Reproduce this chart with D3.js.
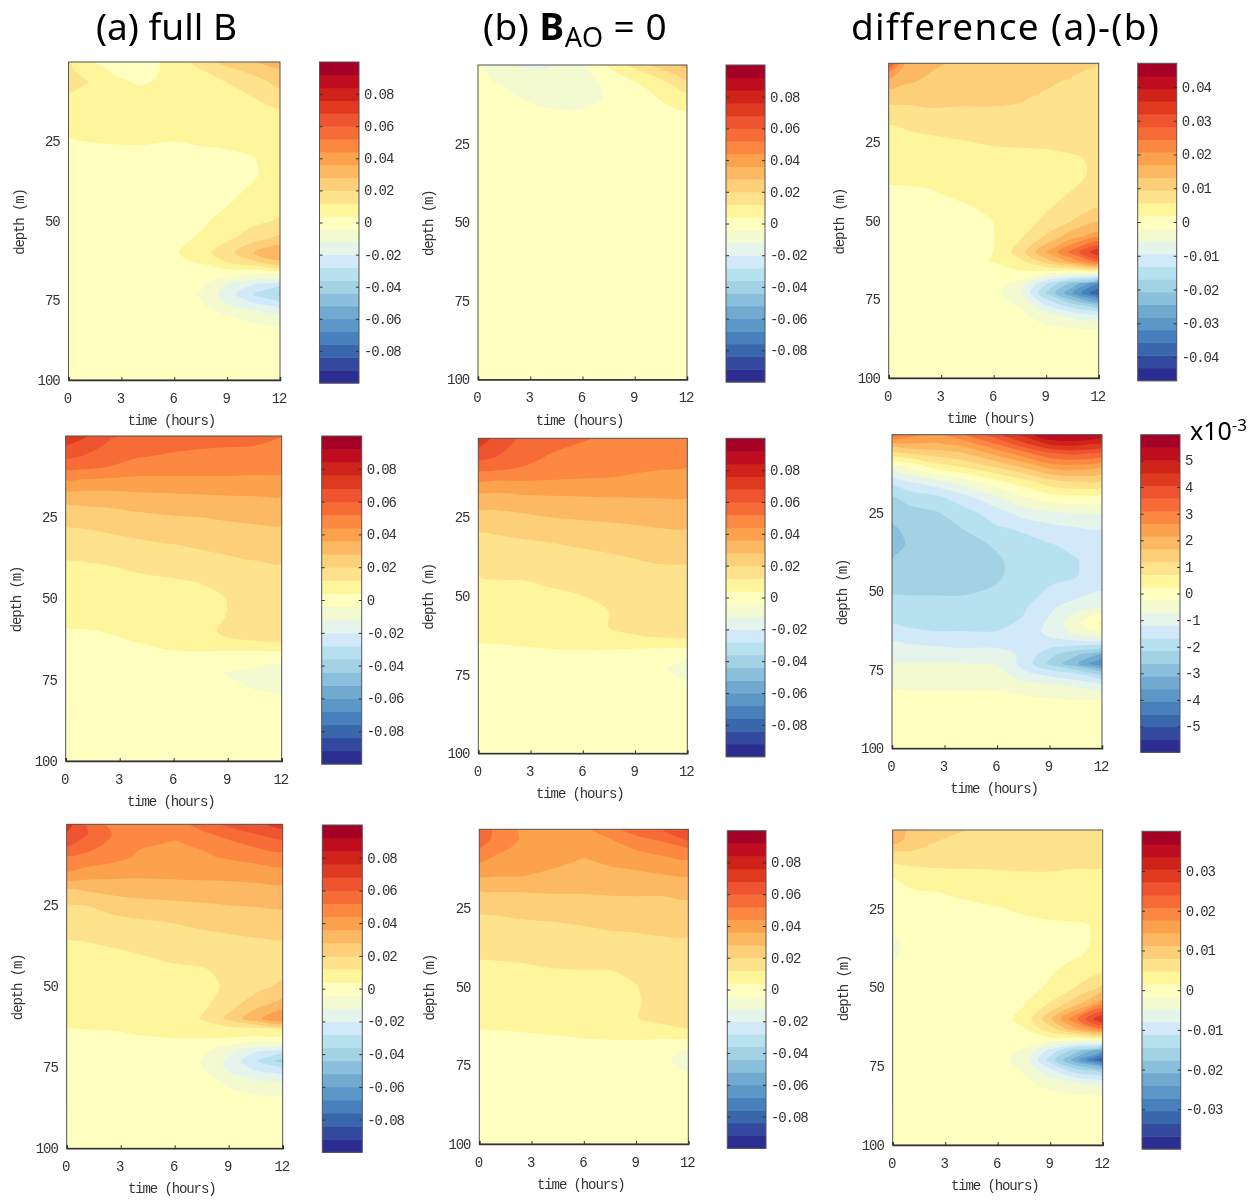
<!DOCTYPE html>
<html>
<head>
<meta charset="utf-8">
<script src="https://cdn.jsdelivr.net/npm/d3@7"></script>
<style>
html, body { margin: 0; background: #fff; }
svg { display: block; filter: blur(0.4px); }
.tick text, .lab { font-family: "Liberation Mono", monospace; font-size: 14px; letter-spacing: -1.1px; fill: #333; }
.title { font-family: "Noto Sans", sans-serif; font-size: 37px; fill: #000; }
</style>
</head>
<body>
<svg id="chart" width="1249" height="1203"></svg>
<script>
var timeHours = [0, 1, 2.5, 4, 6, 7.5, 9, 10.5, 12];
var depthMeters = [0, 3, 6, 10, 15, 20, 25, 30, 35, 40, 45, 50, 55, 60, 63, 66, 70, 73, 76, 80, 85, 100];
var timeTicks = [0, 3, 6, 9, 12];
var depthTicks = [25, 50, 75, 100];
var ticksFull = [-0.08, -0.06, -0.04, -0.02, 0, 0.02, 0.04, 0.06, 0.08];
var ticksDiffTop = [-0.04, -0.03, -0.02, -0.01, 0, 0.01, 0.02, 0.03, 0.04];
var ticksDiffMid = [-5, -4, -3, -2, -1, 0, 1, 2, 3, 4, 5];
var ticksDiffBot = [-0.03, -0.02, -0.01, 0, 0.01, 0.02, 0.03];
var bandColors = ["#2c2d90", "#33489f", "#3a67ab", "#4880bd", "#5b98c8", "#72a9d0", "#8ac0dc", "#a2d2e3", "#b8e1f0", "#d1e9f8", "#e6f5ec", "#f3fad0", "#ffffbf",
    "#fff59a", "#fee38c", "#fdcf78", "#fdb863", "#fda24c", "#fd8842", "#f76b37", "#ee5430", "#df3a1f", "#cf2319", "#bf0c1e", "#a50026"];

// values, rows = depth, columns = time, in units of 1e-3
var fullTop = [
    [12.5,4.5,2,1,6,16,23,27,32],
    [14,9,3.5,2,5.5,11,17,22,26],
    [14,12.5,5,3.4,5,8.5,12.5,17,23],
    [11.8,9.5,6,5,6,7,9,13,18],
    [8,7.5,6,5.5,5.5,6,7,9,11.5],
    [5.2,5.5,5,5,4.8,5,5.5,6.5,8],
    [3.5,4,4.2,4.3,4,4.2,4.3,5,6.5],
    [2.5,3,3,3,3,3.5,3.7,3.9,6],
    [2.5,2.5,2.5,2.5,2.5,3,3,3.5,6],
    [2,2,2,2,2,2.5,3,4.5,6.5],
    [2,2,2,2,2,2.5,3.8,7,9],
    [2,2,2,2,2,3,6,10,13],
    [1.5,1.5,1.5,1.5,2.5,4.5,10,16,21],
    [1.5,1.5,1.5,1.5,3,8.5,17,28,34],
    [1,1,1,1,2.5,4.5,12,18,26],
    [.5,.5,.5,.5,.5,.5,1,0,-1],
    [0,0,0,0,-1,-3,-12,-20,-28],
    [0,0,0,0,-1.5,-4.5,-16,-28,-37],
    [0,0,0,0,-1,-3,-12,-19,-26],
    [0,0,0,0,-.5,-1,-3.5,-6,-11],
    [0,0,0,0,0,0,-1,-1.5,-1],
    [0,0,0,0,0,0,0,0,0]
];
var noAoTop = [
    [-3.5,-9,-13,-13,-5,5,15,24,30],
    [-1,-6,-8,-10.5,-6.5,.5,8,15,24],
    [0,-3.8,-6,-7.5,-6,-3,3,9,17],
    [0,-1,-4.4,-6,-6,-3.5,0,5,10],
    [0,0,-2,-3.3,-3.5,-2,0,1.5,3.5],
    [0,0,0,-.5,-1,-1,0,.5,1.5],
    [0,0,0,0,0,0,0,0,0],
    [0,0,0,0,0,0,0,0,0],
    [0,0,0,0,0,0,0,0,0],
    [0,0,0,0,0,0,0,0,0],
    [0,0,0,0,0,0,0,0,0],
    [0,0,0,0,0,0,0,0,0],
    [0,0,0,0,0,0,0,0,0],
    [0,0,0,0,0,0,0,0,0],
    [0,0,0,0,0,0,0,0,0],
    [0,0,0,0,0,0,0,0,0],
    [0,0,0,0,0,0,0,0,0],
    [0,0,0,0,0,0,0,0,0],
    [0,0,0,0,0,0,0,0,0],
    [0,0,0,0,0,0,0,0,0],
    [0,0,0,0,0,0,0,0,0],
    [0,0,0,0,0,0,0,0,0]
];
var diffTop = [
    [30,15.5,13.8,12.5,11.5,11,10.5,10,9.4],
    [19,15,13,12.5,11.5,11,10.5,9.8,8.5],
    [15.5,13.5,12.5,12,11.5,11,10,8.8,8],
    [11,11,10.5,10.5,10.5,10,9,8,7.5],
    [8,8.5,9.2,9,9,8.8,8,7.5,7],
    [5.2,6,6.5,7,7.5,7.5,7.5,7,7],
    [4.3,4.5,5,5.4,6,6,6,6.5,6.5],
    [3.5,3.5,3.8,4.2,4.7,5,5.2,5.4,6],
    [2.5,2.8,3,3.5,4,4.5,5,5.2,6],
    [1.5,1.6,1.9,2.4,3.3,4,4.5,5.6,6.5],
    [1.3,1.4,1.5,1.7,2.3,3.5,5,7,8.8],
    [1.1,1.1,1.2,1.3,1.9,3.5,6.5,9.5,12.5],
    [1,1,1.1,1.2,1.8,5,10,15.5,19],
    [1,1,1,1.1,1.9,7.5,17,26,35],
    [.8,.8,.9,1,2,4.5,11,18,26],
    [.5,.5,.5,.5,1,1.7,1.7,1.5,0],
    [0,0,0,0,-.5,-3,-13,-22,-32],
    [0,0,0,0,-1,-4.5,-17,-28,-40],
    [0,0,0,0,-.5,-2.5,-11,-18,-26],
    [0,0,0,0,0,-1,-4,-7,-10],
    [0,0,0,0,0,0,-.5,-1,-1.5],
    [0,0,0,0,0,0,0,0,0]
];
var fullMid = [
    [72,69,61,57,56,55,54,53,52],
    [68,65,58,55,54,53,52.5,52,50],
    [62,60,56,53,51,50,49,48,47.5],
    [53,52.5,51,48,47.5,47,46.5,46,45.5],
    [40,39.5,39,39.5,40,40.5,41,41,41],
    [29,30,31,32,32.5,33,33.5,34,34],
    [23,23.5,24,26,27.5,28,29,29.5,30],
    [17.5,18.5,20,21.5,23,24,25,26,26],
    [14,15,16,17,18.5,20,21,22,23],
    [10.5,11,12,13.5,15,16,18,19,19.5],
    [8.5,8.5,9.5,10,11,12.2,14.5,15,15.5],
    [7,7,7.5,8,9,10,12.2,14,14.5],
    [5.5,5.5,6,6.5,7.5,9,12.2,14,14.5],
    [3.5,3.8,4.2,5,6,9,14,14,14.3],
    [2.5,3,3.5,4.2,5,6,11,12,12.8],
    [1.5,1.8,2.5,3,4,4.2,4.2,4.3,4.2],
    [1,1,1,1,1,.5,-1,-3,-4.5],
    [.5,.5,.5,.5,.5,-.5,-4.5,-5.5,-6.5],
    [.5,.5,.5,.5,0,-.5,-3,-5,-6],
    [0,0,0,0,0,-.5,-1.5,-3,-3.8],
    [0,0,0,0,0,0,-.5,-1,-1.5],
    [0,0,0,0,0,0,0,0,0]
];
var noAoMid = [
    [72,66,58,55,53,50,48.5,48,47.5],
    [68,63,57,53.5,50.5,48.5,47.5,47,47],
    [62,60,55,51.5,49,47.5,47,46,45.5],
    [53,52.5,51,48.5,47,46,45,44,43.5],
    [40.5,40,41,41.5,41.5,42,41,40,39],
    [31,31,32.5,33,33.5,34,34.5,35,35],
    [25,25.5,26.5,28,29,29.5,30,30.5,30.5],
    [19.5,20.5,22,23,24,25,26,27,27],
    [16,16.5,17,18,20,21,22,23,23.5],
    [13.5,14,14.5,15,16.5,17.5,19,20,20],
    [11.5,12,12,12.8,14,15,16.5,17,17.5],
    [10.5,10.5,10.5,11,12,13.5,14.5,15,15.5],
    [9,9,9.5,10,10.5,12,14,15,15],
    [7,7.5,7.5,8,9,12,13.5,14.5,14.5],
    [5,5.5,6,6.5,7.5,10,11.5,12.5,12.8],
    [3.3,3.5,4,4.5,4.8,5,5,5,5],
    [1.5,1.5,1.5,2,2,1.5,0,-2.5,-4],
    [1,1,1,1,1,.5,-1,-3.5,-5.5],
    [.5,.5,.5,.5,.5,0,-.5,-2.5,-4.5],
    [0,0,0,0,0,0,-.5,-1,-2],
    [0,0,0,0,0,0,0,0,-.5],
    [0,0,0,0,0,0,0,0,0]
];
var diffMid = [
    [3.3,2.8,2.4,3,3.9,4.7,5.5,5.6,5.2],
    [1.8,2.1,2.1,2.3,3.1,3.9,4.6,4.7,4.4],
    [.9,1.2,1.4,1.6,2.3,2.9,3.5,3.7,3.4],
    [-.5,-.1,.5,.8,1.3,1.8,2.4,2.5,2.2],
    [-1.6,-1.2,-.9,-.5,.1,.5,1,1.2,1.1],
    [-2.2,-2,-1.8,-1.4,-.8,-.3,0,.1,0],
    [-2.5,-2.3,-2.2,-1.9,-1.4,-1,-.8,-.7,-.7],
    [-2.7,-2.5,-2.35,-2.15,-1.75,-1.6,-1.4,-1.25,-1.2],
    [-2.85,-2.55,-2.45,-2.3,-2.1,-1.85,-1.7,-1.55,-1.4],
    [-2.6,-2.5,-2.45,-2.35,-2.2,-2,-1.85,-1.7,-1.45],
    [-2.5,-2.45,-2.4,-2.3,-2.2,-2,-1.8,-1.7,-1.4],
    [-2.2,-2.2,-2.2,-2.2,-2.1,-1.9,-1.6,-1.5,-1.2],
    [-2,-2,-2,-2,-1.95,-1.75,-1.3,-.9,-.7],
    [-1.7,-1.75,-1.8,-1.8,-1.8,-1.6,-1.1,-.4,.35],
    [-1.5,-1.6,-1.65,-1.65,-1.65,-1.4,-1.1,-.6,-.2],
    [-1.2,-1.25,-1.3,-1.35,-1.35,-1.3,-1.3,-1.3,-1.4],
    [-.95,-.95,-1,-1.05,-1.05,-1.25,-2,-2.5,-3.2],
    [-.7,-.7,-.7,-.7,-.75,-1.35,-2.25,-3,-4.1],
    [-.5,-.5,-.5,-.5,-.5,-1.1,-1.4,-1.7,-2.5],
    [-.3,-.3,-.3,-.3,-.3,-.5,-.6,-.8,-1.1],
    [-.1,-.1,-.1,-.1,-.1,-.1,-.15,-.2,-.2],
    [0,0,0,0,0,0,0,0,0]
];
var fullBot = [
    [72,60,49,47,47,56,62,66,71],
    [67,61,52,46.5,45,50,55,60,64],
    [62,57,50,45,43.5,45,50,54,56],
    [51,50,47,43,42.5,43,45,47,49.5],
    [43,41,39,38,38,38.5,39,40,40.5],
    [27,29,31,32,33,33,33,33.5,34],
    [19,20,23,25,26,27,28,28.5,29],
    [15.5,16,17.5,19,20.5,22,23,24,24.5],
    [12,12.5,13.5,15,16.5,18,19,20,20.5],
    [10,10.5,11,12,13.5,15,16,16.5,17],
    [9,9,9.5,10,11,11.3,14,14,16.5],
    [8,8,8.5,8.5,9,10,13,17,22],
    [7,7,7.5,7.5,8,10,16,24,30],
    [5.5,5.5,6,6,7,12.5,22,34,43],
    [3.8,4.2,4.5,5,6,8,10,11,12.5],
    [2,2,2.5,3.5,4,4,3.5,2,1],
    [1,1,1,1,.5,-2,-10,-19,-26],
    [.5,.5,.5,.5,0,-4.5,-14,-27,-40],
    [.5,.5,.5,.5,0,-3,-13,-20,-25],
    [0,0,0,0,0,-1,-5,-9,-12],
    [0,0,0,0,0,0,-1,-2,-2.5],
    [0,0,0,0,0,0,0,0,0]
];
var noAoBot = [
    [58,49,42,41,42,49,56,60,66],
    [56,50,43,41,41,44,50,54,62],
    [52,46,42,39,38,40,45,47,52],
    [45,42,40,38,35.5,37,39,42,43],
    [36,36,36,34.5,34,34,34,35,35.5],
    [27,28,28,28.5,28.5,29,29,29,30],
    [21,21.5,22.5,23,24,24.5,25,25,25.5],
    [18,18.5,19,19.5,20.5,21.5,22,22,22.5],
    [15,15.5,16,16.5,17,18,18.5,19.5,19.5],
    [12.5,12.8,13,14,15,16,16,17.5,17.5],
    [10.5,10.5,11,11.5,11.8,11.8,13,15.5,16],
    [9,9,9.5,10,10,10.5,11.8,14.5,15],
    [7.5,7.5,8,8.5,9,10,11.3,14.5,15],
    [5.5,5.5,6,6.5,8,9.5,11.8,13.5,15],
    [4.2,4.5,5,5.5,6.5,7.5,9.5,11,12.5],
    [2.5,2.8,3,3.5,4.3,4.8,5,5,5],
    [1.5,1.5,1.5,1.5,1.5,1.2,.5,-1.5,-4.2],
    [1,1,1,1,1,.5,-.5,-3,-6],
    [.5,.5,.5,.5,.5,0,-.5,-2,-4.8],
    [0,0,0,0,0,0,0,-1,-2],
    [0,0,0,0,0,0,0,0,-.5],
    [0,0,0,0,0,0,0,0,0]
];
var diffBot = [
    [14,10,8.8,8.2,7,6.5,6.2,6,5.8],
    [14,9.5,8.3,7,6.5,6.2,6,5.8,5.6],
    [8.5,8.5,7,6.5,6.2,6,5.8,5.5,5.4],
    [5,5.5,5.5,5.5,5.5,5.5,5.5,5.2,5.2],
    [1.5,3,3.8,4,4.2,4.4,4.4,4.3,4.2],
    [.5,1,1.5,2,3,3.2,3.3,3.3,3.2],
    [0,0,.5,1,1.4,2,2.3,2.6,2.6],
    [-.5,-.2,0,.3,.8,1,1.3,1.4,1.85],
    [-2,-1,0,.2,.5,.8,1,1.3,1.85],
    [-2,-.8,0,0,.3,.5,1,1.4,2.4],
    [-.5,-.3,0,0,.2,.4,1.3,3,4.5],
    [0,0,0,0,.2,.7,2,5,8.5],
    [0,0,0,0,.3,1.4,5,10,16],
    [0,0,0,0,.3,2.6,10.5,20.5,31],
    [0,0,0,0,.3,1.5,7,14,20],
    [0,0,0,0,0,.5,1.5,1.5,1],
    [0,0,0,0,-.3,-2,-9,-16,-24],
    [0,0,0,0,-.5,-3,-12.5,-23,-34],
    [0,0,0,0,-.3,-2,-7.5,-14,-18],
    [0,0,0,0,0,-1,-3,-5,-7],
    [0,0,0,0,0,0,-.4,-.8,-1],
    [0,0,0,0,0,0,0,0,0]
];

// where each panel sits on the page: plot box, colour bar box
var panels = [
    {grid: fullTop,  half: 100, unit: 1e-3, ticks: ticksFull,    l: 68.5,  r: 280,    t: 62,    b: 380,    bl: 319.5,  br: 359,    bt: 62,    bb: 383},
    {grid: noAoTop,  half: 100, unit: 1e-3, ticks: ticksFull,    l: 478,   r: 687,    t: 65,    b: 379.5,  bl: 726,    br: 765,    bt: 65,    bb: 382},
    {grid: diffTop,  half: 47,  unit: 1e-3, ticks: ticksDiffTop, l: 888.7, r: 1098.7, t: 63.3,  b: 378,    bl: 1137.7, br: 1176.7, bt: 63.3,  bb: 380.7},
    {grid: fullMid,  half: 100, unit: 1e-3, ticks: ticksFull,    l: 65.7,  r: 281.7,  t: 436,   b: 761,    bl: 321.7,  br: 361.7,  bt: 436,   bb: 764},
    {grid: noAoMid,  half: 100, unit: 1e-3, ticks: ticksFull,    l: 478.3, r: 687.3,  t: 438.3, b: 753.3,  bl: 726,    br: 765,    bt: 438.3, bb: 756.7},
    {grid: diffMid,  half: 5.97, unit: 1,   ticks: ticksDiffMid, l: 892,   r: 1102,   t: 434.7, b: 748.3,  bl: 1140.7, br: 1180,   bt: 434.7, bb: 752.3},
    {grid: fullBot,  half: 100, unit: 1e-3, ticks: ticksFull,    l: 66.7,  r: 282.7,  t: 824.3, b: 1148.3, bl: 322.3,  br: 362.3,  bt: 825,   bb: 1152.3},
    {grid: noAoBot,  half: 100, unit: 1e-3, ticks: ticksFull,    l: 479.3, r: 688.3,  t: 829.3, b: 1144,   bl: 727.3,  br: 766,    bt: 830.7, bb: 1148.3},
    {grid: diffBot,  half: 40,  unit: 1e-3, ticks: ticksDiffBot, l: 892.7, r: 1102.7, t: 830,   b: 1145,   bl: 1142,   br: 1180.7, bt: 831.3, bb: 1149}
];

var svg = d3.select("#chart");
var nx = timeHours.length, ny = depthMeters.length;

// grid index -> data value, because the grid is not evenly spaced
var tOfIndex = d3.scaleLinear().domain(d3.range(nx)).range(timeHours).clamp(true);
var dOfIndex = d3.scaleLinear().domain(d3.range(ny)).range(depthMeters).clamp(true);

var ringLine = d3.line().curve(d3.curveCatmullRomClosed.alpha(0.5));

var drawPanel = (p, idx) => {
    var g = svg.append("g");
    var x = d3.scaleLinear().domain([0, 12]).range([p.l, p.r]);
    var y = d3.scaleLinear().domain([0, 100]).range([p.t, p.b]);
    var band = 2 * p.half / bandColors.length;

    // contour rings go through the scales, then get a rounded outline
    var shapePath = shape => shape.coordinates
        .flatMap(poly => poly.map(ring => {
            var pts = ring.slice(0, -1).map(q => [x(tOfIndex(q[0] - 0.5)), y(dOfIndex(q[1] - 0.5))]);
            pts = pts.filter((q, i) => i === 0 || Math.hypot(q[0] - pts[i - 1][0], q[1] - pts[i - 1][1]) > 0.01);
            return ringLine(pts);
        }))
        .join("");

    var levels = d3.range(1, bandColors.length).map(k => -p.half + k * band);
    var shapes = d3.contours().size([nx, ny]).thresholds(levels)(p.grid.flat());

    svg.append("clipPath").attr("id", "plot" + idx)
        .append("rect")
        .attr("x", p.l).attr("y", p.t)
        .attr("width", p.r - p.l).attr("height", p.b - p.t);

    g.append("rect")
        .attr("x", p.l).attr("y", p.t)
        .attr("width", p.r - p.l).attr("height", p.b - p.t)
        .attr("fill", bandColors[0]);

    g.append("g")
        .attr("clip-path", `url(#plot${idx})`)
        .selectAll("path")
        .data(shapes)
        .join("path")
        .attr("d", shapePath)
        .attr("fill-rule", "evenodd")
        .attr("fill", (d, i) => bandColors[i + 1]);

    g.append("rect")
        .attr("x", p.l).attr("y", p.t)
        .attr("width", p.r - p.l).attr("height", p.b - p.t)
        .attr("fill", "none").attr("stroke", "#555").attr("stroke-width", 1);

    g.append("g")
        .attr("transform", `translate(0,${p.b})`)
        .call(d3.axisBottom(x).tickValues(timeTicks).tickSize(-3).tickPadding(13).tickFormat(d3.format("d")))
        .call(a => a.select(".domain").attr("stroke", "#333").attr("stroke-width", 1.5))
        .call(a => a.selectAll(".tick line").attr("stroke", "#333"))
        .call(a => a.selectAll(".tick text").attr("dx", -1.5));

    g.append("g")
        .attr("transform", `translate(${p.l},0)`)
        .call(d3.axisLeft(y).tickValues(depthTicks).tickSize(0).tickPadding(9).tickFormat(d3.format("d")))
        .call(a => a.select(".domain").remove());

    g.append("text").attr("class", "lab")
        .attr("text-anchor", "middle")
        .attr("x", (p.l + p.r) / 2 - 3)
        .attr("y", p.b + 45)
        .text("time (hours)");

    g.append("text").attr("class", "lab")
        .attr("text-anchor", "middle")
        .attr("transform", `translate(${p.l - 45},${(p.t + p.b) / 2 + 1}) rotate(-90)`)
        .text("depth (m)");

    // colour bar
    var c = d3.scaleLinear().domain([-p.half * p.unit, p.half * p.unit]).range([p.bb, p.bt]);
    g.append("g").selectAll("rect")
        .data(bandColors)
        .join("rect")
        .attr("x", p.bl)
        .attr("width", p.br - p.bl)
        .attr("y", (d, i) => c((-p.half + (i + 1) * band) * p.unit))
        .attr("height", (d, i) => c((-p.half + i * band) * p.unit) - c((-p.half + (i + 1) * band) * p.unit) + 0.5)
        .attr("fill", d => d);

    g.append("rect")
        .attr("x", p.bl).attr("y", p.bt)
        .attr("width", p.br - p.bl).attr("height", p.bb - p.bt)
        .attr("fill", "none").attr("stroke", "#555").attr("stroke-width", 1);

    g.append("g")
        .attr("transform", `translate(${p.br},0)`)
        .call(d3.axisRight(c).tickValues(p.ticks).tickSize(-3).tickPadding(5).tickFormat(d => String(d)))
        .call(a => a.select(".domain").remove())
        .call(a => a.selectAll(".tick line").attr("stroke", "#333"));

    g.append("g")
        .attr("transform", `translate(${p.bl},0)`)
        .call(d3.axisLeft(c).tickValues(p.ticks).tickSize(-3).tickFormat(""))
        .call(a => a.select(".domain").remove())
        .call(a => a.selectAll(".tick line").attr("stroke", "#333"));
};

panels.forEach(drawPanel);

// column titles
svg.append("text").attr("class", "title").attr("x", 96).attr("y", 40).text("(a) full B");

var titleB = svg.append("text").attr("class", "title").attr("x", 483).attr("y", 40).style("letter-spacing", "0.5px");
titleB.append("tspan").text("(b) ");
titleB.append("tspan").attr("font-weight", "bold").text("B");
titleB.append("tspan").attr("dy", 7).attr("font-size", 27).text("AO");
titleB.append("tspan").attr("dy", -7).text(" = 0");

svg.append("text").attr("class", "title").attr("x", 851).attr("y", 40).style("letter-spacing", "1.35px").text("difference (a)-(b)");

var exponent = svg.append("text").attr("class", "title").attr("x", 1190).attr("y", 440).style("font-size", "25px");
exponent.append("tspan").text("x10");
exponent.append("tspan").attr("dy", -9).attr("font-size", 17).text("-3");
</script>
</body>
</html>
